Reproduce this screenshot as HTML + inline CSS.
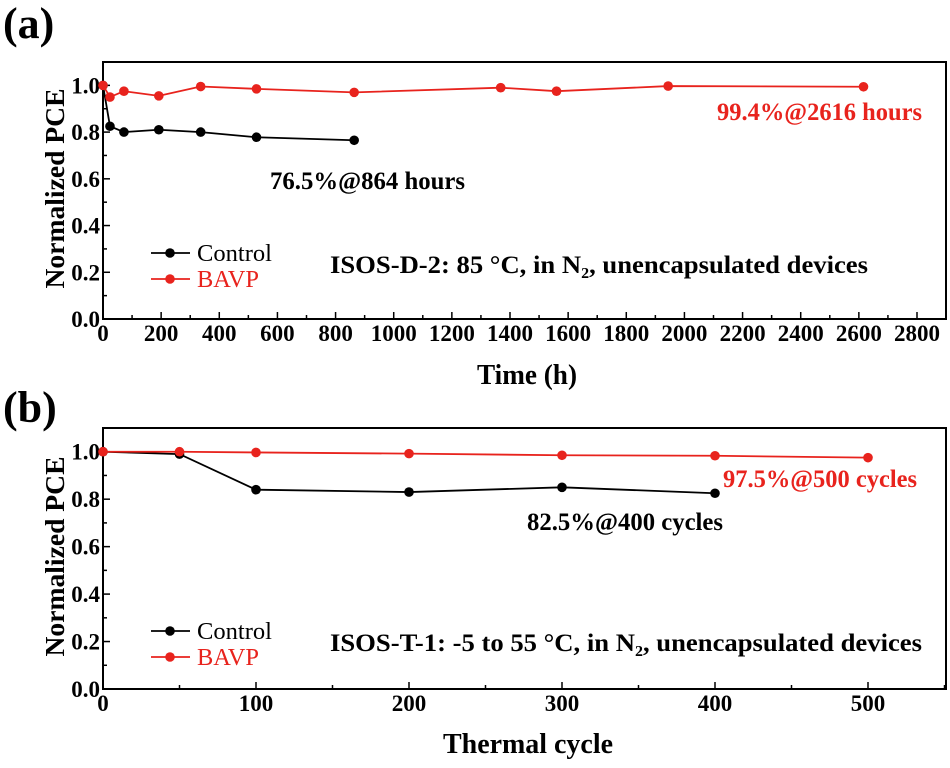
<!DOCTYPE html>
<html><head><meta charset="utf-8"><style>
body{margin:0;background:#fff}
svg text{font-family:"Liberation Serif",serif}
</style></head><body>
<svg id="c" width="950" height="763" xmlns="http://www.w3.org/2000/svg"></svg>
<script>
const aCtrlX=[0,24,72,192,336,528,864];
const aCtrlY=[1.0,0.825,0.80,0.81,0.80,0.778,0.765];
const aBavpX=[0,24,72,192,336,528,864,1368,1560,1944,2616];
const aBavpY=[1.0,0.95,0.975,0.955,0.995,0.985,0.97,0.99,0.975,0.997,0.994];
const aXTicks=[0,200,400,600,800,1000,1200,1400,1600,1800,2000,2200,2400,2600,2800];
const bCtrlX=[0,50,100,200,300,400];
const bCtrlY=[1.0,0.99,0.84,0.83,0.85,0.825];
const bBavpX=[0,50,100,200,300,400,500];
const bBavpY=[1.0,1.0,0.997,0.992,0.985,0.983,0.975];
const bXTicks=[0,100,200,300,400,500];
const yTicks=[0.0,0.2,0.4,0.6,0.8,1.0];

const svg=document.getElementById('c');
const NS='http://www.w3.org/2000/svg';
function el(tag,attrs,parent){const e=document.createElementNS(NS,tag);for(const k in attrs)e.setAttribute(k,attrs[k]);(parent||svg).appendChild(e);return e;}
function txt(s,attrs,parent){const e=el('text',attrs,parent);e.textContent=s;return e;}

function panel(p){
  const g=el('g',{});
  
  
  const L=103,R=946,T=p.top,B=p.bottom;
  const sx=v=>L+v*p.xScale;
  const sy=v=>B-(v/1.1)*(B-T);
  const frame=el('rect',{x:L,y:T,width:R-L,height:B-T,fill:'none',stroke:'#000','stroke-width':2},g);
  
  
  for(let i=0;i<p.xTicks.length;i++){
    const v=p.xTicks[i];const x=sx(v);
    el('line',{x1:x,y1:B,x2:x,y2:B-7,stroke:'#000','stroke-width':1.5},g);
    const xm=sx(v+p.xMinor);if(xm<R)el('line',{x1:xm,y1:B,x2:xm,y2:B-4,stroke:'#000','stroke-width':1.5},g);
    const t=txt(String(v),{x:x,y:B+22,'text-anchor':'middle','font-size':23,'font-weight':'bold'},g);
    
    
  }
  for(let i=0;i<yTicks.length;i++){
    const v=yTicks[i];const y=sy(v);
    el('line',{x1:L,y1:y,x2:L+7,y2:y,stroke:'#000','stroke-width':1.5},g);
    const ym=sy(v+0.1);el('line',{x1:L,y1:ym,x2:L+4,y2:ym,stroke:'#000','stroke-width':1.5},g);
    const t=txt(v.toFixed(1),{x:L-3,y:y+8,'text-anchor':'end','font-size':23,'font-weight':'bold'},g);
    
    
  }
  const yt=txt('Normalized PCE',{x:0,y:0,transform:`translate(64,${(T+B)/2-2}) rotate(-90)`,'text-anchor':'middle','font-size':27,'font-weight':'bold',textLength:200,lengthAdjust:'spacingAndGlyphs'},g);
  
  
  const xt=txt(p.xTitle,{x:p.xTitleX,y:p.xTitleY,'text-anchor':'middle','font-size':28,'font-weight':'bold',textLength:p.xTitleW,lengthAdjust:'spacingAndGlyphs'},g);
  
  
  const series=[[p.cx,p.cy,'#000','control-series'],[p.bx,p.by,'#e8231d','bavp-series']];
  for(const [xs,ys,col,nm] of series){
    const sg=el('g',{},g);
    
    
    el('polyline',{points:xs.map((x,i)=>sx(x)+','+sy(ys[i])).join(' '),fill:'none',stroke:col,'stroke-width':1.8},sg);
    for(let i=0;i<xs.length;i++){
      const c=el('circle',{cx:sx(xs[i]),cy:sy(ys[i]),r:4.8,fill:col},sg);
      
      
    }
  }
  const lg=el('g',{},g);
  
  
  [[p.legY,'#000','Control',75],[p.legY+26,'#e8231d','BAVP',62]].forEach(([y,col,lab,w])=>{
    el('line',{x1:151,y1:y,x2:190,y2:y,stroke:col,'stroke-width':1.8},lg);
    el('circle',{cx:170,cy:y,r:4.8,fill:col},lg);
    const t=txt(lab,{x:197,y:y+8,'font-size':24,fill:col,textLength:w,lengthAdjust:'spacingAndGlyphs'},lg);
    
    
  });
  return {g,sx,sy};
}

panel({name:'panel-a',top:62,bottom:319,xScale:(917-103)/2800,xTicks:aXTicks,xMinor:100,xTitle:'Time (h)',xTitleX:527,xTitleY:384,xTitleW:100,cx:aCtrlX,cy:aCtrlY,bx:aBavpX,by:aBavpY,legY:253});
panel({name:'panel-b',top:428,bottom:689,xScale:(868-103)/500,xTicks:bXTicks,xMinor:50,xTitle:'Thermal cycle',xTitleX:528,xTitleY:753,xTitleW:170,cx:bCtrlX,cy:bCtrlY,bx:bBavpX,by:bBavpY,legY:631});

function label(s,attrs,name){const t=txt(s,attrs);}
const fit={lengthAdjust:'spacingAndGlyphs'};
label('(a)',{x:3,y:38,'font-size':44,'font-weight':'bold'},'panel-a-label');
label('(b)',{x:3,y:422,'font-size':44,'font-weight':'bold'},'panel-b-label');
label('99.4%@2616 hours',Object.assign({x:717,y:120,'font-size':25,'font-weight':'bold',fill:'#e8231d',textLength:205},fit),'bavp-annotation-a');
label('76.5%@864 hours',Object.assign({x:270,y:189,'font-size':25,'font-weight':'bold',textLength:195},fit),'control-annotation-a');
label('ISOS-D-2: 85 °C, in N₂, unencapsulated devices',Object.assign({x:330,y:273,'font-size':25,'font-weight':'bold',textLength:538},fit),'condition-note-a');
label('97.5%@500 cycles',Object.assign({x:723,y:487,'font-size':25,'font-weight':'bold',fill:'#e8231d',textLength:194},fit),'bavp-annotation-b');
label('82.5%@400 cycles',Object.assign({x:527,y:530,'font-size':25,'font-weight':'bold',textLength:196},fit),'control-annotation-b');
label('ISOS-T-1: -5 to 55 °C, in N₂, unencapsulated devices',Object.assign({x:330,y:651,'font-size':25,'font-weight':'bold',textLength:592},fit),'condition-note-b');
</script>
</body></html>
